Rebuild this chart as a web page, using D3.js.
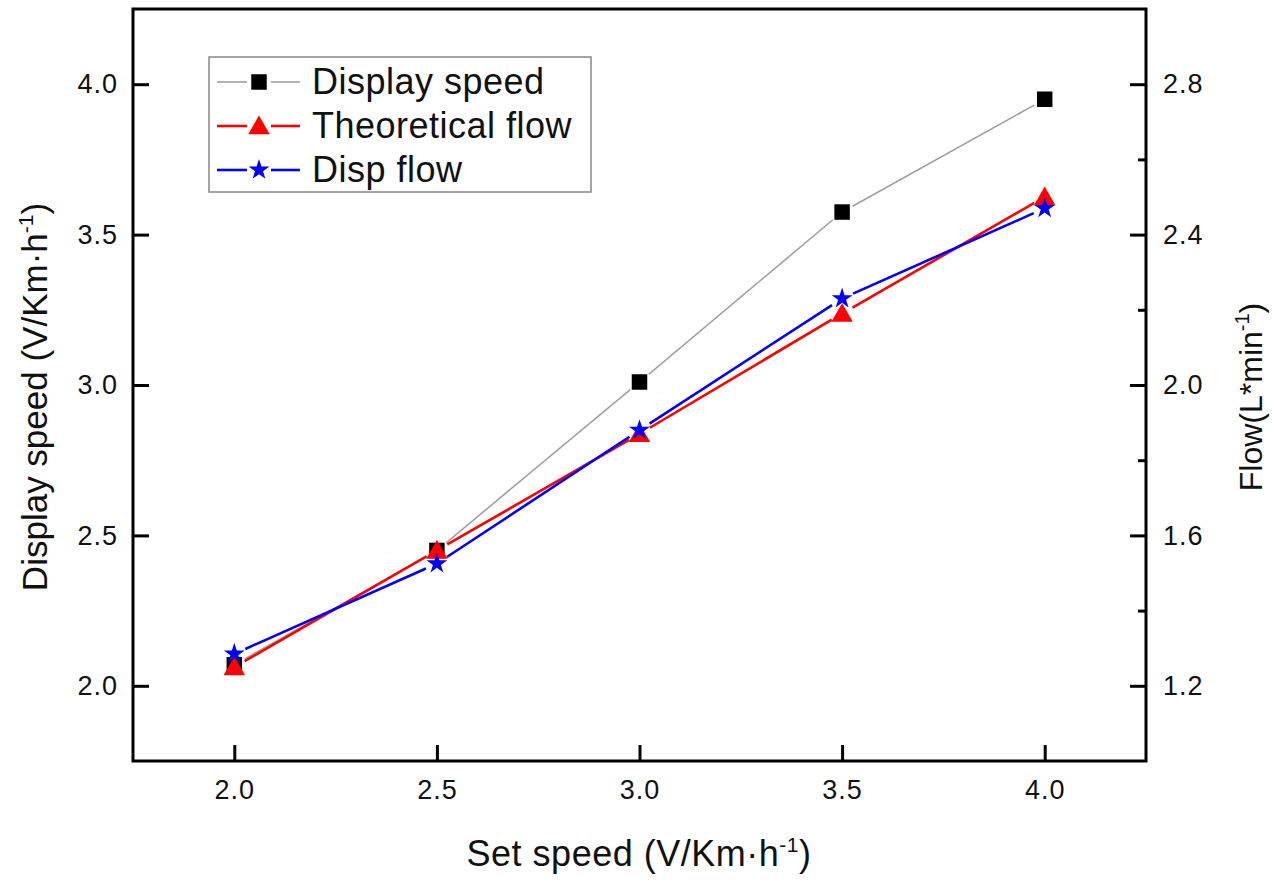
<!DOCTYPE html>
<html>
<head>
<meta charset="utf-8">
<script src="https://cdn.jsdelivr.net/npm/d3@7"></script>
<style>
  html, body { margin: 0; padding: 0; background: #fff; }
  svg { display: block; }
  text { font-family: "Liberation Sans", Arial, sans-serif; fill: #111; }
</style>
</head>
<body>
<svg id="chart" width="1272" height="883"></svg>
<script>
// Set speed (x) for every measurement
const setSpeed = [2.0, 2.5, 3.0, 3.5, 4.0];
// Left axis series
const displaySpeed = [2.07, 2.45, 3.01, 3.575, 3.95];
// Right axis series
const theoreticalFlow = [1.25, 1.56, 1.87, 2.19, 2.50];
const dispFlow = [1.285, 1.525, 1.88, 2.23, 2.47];

const xTicks = [2.0, 2.5, 3.0, 3.5, 4.0];
const yLeftTicks = [2.0, 2.5, 3.0, 3.5, 4.0];
const yRightTicks = [1.2, 1.6, 2.0, 2.4, 2.8];
const yRightMinor = [1.4, 1.8, 2.2, 2.6];

const svg = d3.select("#chart");
const plot = { left: 133, right: 1146, top: 9, bottom: 761 };

const x = d3.scaleLinear().domain([1.75, 4.25]).range([plot.left, plot.right]);
const yL = d3.scaleLinear().domain([1.75, 4.25]).range([plot.bottom, plot.top]);
const yR = d3.scaleLinear().domain([1.0, 3.0]).range([plot.bottom, plot.top]);

const fmt = d3.format(".1f");

// Axes with inward ticks
const gx = svg.append("g").attr("transform", `translate(0,${plot.bottom})`)
  .call(d3.axisBottom(x).tickValues(xTicks).tickFormat(fmt).tickSizeInner(-16).tickSizeOuter(0).tickPadding(19));
const gl = svg.append("g").attr("transform", `translate(${plot.left},0)`)
  .call(d3.axisLeft(yL).tickValues(yLeftTicks).tickFormat(fmt).tickSizeInner(-16).tickSizeOuter(0).tickPadding(15));
const grMinor = svg.append("g").attr("transform", `translate(${plot.right},0)`)
  .call(d3.axisRight(yR).tickValues(yRightMinor).tickFormat("").tickSizeInner(-8).tickSizeOuter(0));
const gr = svg.append("g").attr("transform", `translate(${plot.right},0)`)
  .call(d3.axisRight(yR).tickValues(yRightTicks).tickFormat(fmt).tickSizeInner(-16).tickSizeOuter(0).tickPadding(17));

[gx, gl, gr, grMinor].forEach(g => {
  g.select(".domain").remove();
  g.selectAll(".tick line").attr("stroke", "#000").attr("stroke-width", 3);
  g.selectAll(".tick text").attr("font-size", 27).attr("fill", "#222")
    .attr("letter-spacing", 1)
    .style("font-family", "'Liberation Sans', Arial, sans-serif");
});

// Frame
svg.append("rect")
  .attr("x", plot.left).attr("y", plot.top)
  .attr("width", plot.right - plot.left).attr("height", plot.bottom - plot.top)
  .attr("fill", "none").attr("stroke", "#000").attr("stroke-width", 3);

// Series definitions
const series = [
  { name: "Display speed", values: displaySpeed, y: yL, color: "#a0a0a0", width: 1.6,
    marker: d3.symbolSquare, size: 240, fill: "#000" },
  { name: "Theoretical flow", values: theoreticalFlow, y: yR, color: "#ff0000", width: 2.6,
    marker: d3.symbolTriangle, size: 200, fill: "#ff0000" },
  { name: "Disp flow", values: dispFlow, y: yR, color: "#0000ff", width: 2.6,
    marker: d3.symbolStar, size: 135, fill: "#0000ff" }
];

const gap = 12;
// Line segments stop short of each marker, leaving a small gap
function segments(pts) {
  const out = [];
  for (let i = 0; i < pts.length - 1; i++) {
    const [x1, y1] = pts[i], [x2, y2] = pts[i + 1];
    const dx = x2 - x1, dy = y2 - y1, len = Math.hypot(dx, dy);
    const ux = dx / len, uy = dy / len;
    out.push([x1 + ux * gap, y1 + uy * gap, x2 - ux * gap, y2 - uy * gap]);
  }
  return out;
}

const layer = svg.append("g");
series.forEach(s => {
  const pts = setSpeed.map((v, i) => [x(v), s.y(s.values[i])]);
  layer.append("g").selectAll("line").data(segments(pts)).join("line")
    .attr("x1", d => d[0]).attr("y1", d => d[1]).attr("x2", d => d[2]).attr("y2", d => d[3])
    .attr("stroke", s.color).attr("stroke-width", s.width);
});
series.forEach(s => {
  const pts = setSpeed.map((v, i) => [x(v), s.y(s.values[i])]);
  const dyOff = s.marker === d3.symbolTriangle ? 2 : 0;
  layer.append("g").selectAll("path").data(pts).join("path")
    .attr("transform", d => `translate(${d[0]},${d[1] + dyOff})`)
    .attr("d", d3.symbol().type(s.marker).size(s.size))
    .attr("fill", s.fill);
});

// Legend
const legend = svg.append("g").attr("transform", "translate(209,57)");
legend.append("rect").attr("width", 382).attr("height", 135)
  .attr("fill", "#fff").attr("stroke", "#888").attr("stroke-width", 1.5);
series.forEach((s, i) => {
  const cy = 25 + i * 44;
  const row = legend.append("g").attr("transform", `translate(0,${cy})`);
  row.append("line").attr("x1", 8).attr("x2", 38).attr("y1", 0).attr("y2", 0)
    .attr("stroke", s.color).attr("stroke-width", s.width);
  row.append("line").attr("x1", 62).attr("x2", 91).attr("y1", 0).attr("y2", 0)
    .attr("stroke", s.color).attr("stroke-width", s.width);
  row.append("path").attr("transform", `translate(50,${s.marker === d3.symbolTriangle ? 2 : 0})`)
    .attr("d", d3.symbol().type(s.marker).size(s.size)).attr("fill", s.fill);
  row.append("text").attr("x", 103).attr("y", 12).attr("font-size", 36)
    .attr("letter-spacing", 0.5).text(s.name);
});

// Axis titles
const xt = svg.append("text").attr("x", 639).attr("y", 866).attr("text-anchor", "middle")
  .attr("font-size", 36).attr("letter-spacing", 0.5);
xt.append("tspan").text("Set speed (V/Km·h");
xt.append("tspan").attr("dy", -14).attr("font-size", 21).text("-1");
xt.append("tspan").attr("dy", 14).text(")");

const yt = svg.append("text").attr("transform", "translate(47,397) rotate(-90)")
  .attr("text-anchor", "middle").attr("font-size", 35);
yt.append("tspan").text("Display speed (V/Km·h");
yt.append("tspan").attr("dy", -14).attr("font-size", 21).text("-1");
yt.append("tspan").attr("dy", 14).text(")");

const rt = svg.append("text").attr("transform", "translate(1262,397) rotate(-90)")
  .attr("text-anchor", "middle").attr("font-size", 32);
rt.append("tspan").text("Flow(L*min");
rt.append("tspan").attr("dy", -13).attr("font-size", 20).text("-1");
rt.append("tspan").attr("dy", 13).text(")");
</script>
</body>
</html>
